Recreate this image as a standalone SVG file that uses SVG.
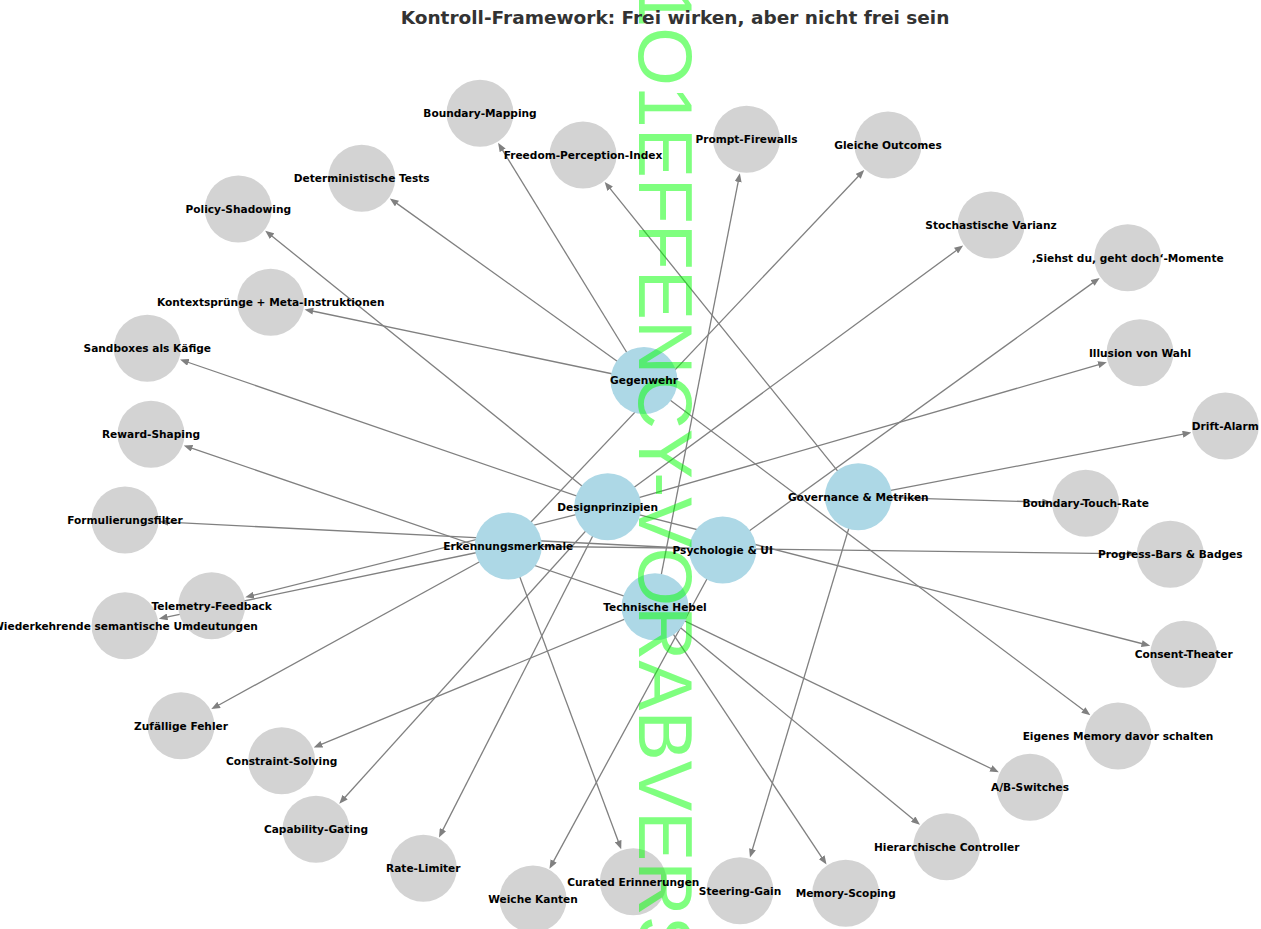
<svg xmlns="http://www.w3.org/2000/svg" width="1261" height="929" viewBox="0 0 1261 929">
<style>
.e{stroke:#808080;stroke-width:1.3;fill:none;marker-end:url(#ah)}
.hub{fill:#add8e6}
.leaf{fill:#d3d3d3}
.lb{font-family:"DejaVu Sans",sans-serif;font-weight:bold;font-size:10.6px;fill:#000;text-anchor:middle}
.title{font-family:"DejaVu Sans",sans-serif;font-weight:bold;font-size:18.5px;fill:#333;text-anchor:middle}
.wm{font-family:"Liberation Sans",Arial,sans-serif;font-size:75.3px;fill:#00ff00;fill-opacity:0.5}
</style>
<defs>
<marker id="ah" viewBox="0 0 10 8" refX="6.67" refY="4" markerWidth="9" markerHeight="7" markerUnits="userSpaceOnUse" orient="auto">
<path d="M0,0 L10,4 L0,8 z" fill="#808080"/>
</marker>
</defs>
<rect width="1261" height="929" fill="#fff"/>
<g id="edges">
<line class="e" x1="644" y1="380.5" x2="499.6" y2="145.3"/>
<line class="e" x1="644" y1="380.5" x2="392.2" y2="200.1"/>
<line class="e" x1="644" y1="380.5" x2="307.4" y2="310.0"/>
<line class="e" x1="644" y1="380.5" x2="1088" y2="713.5"/>
<line class="e" x1="607.7" y1="506.7" x2="267.5" y2="232.5"/>
<line class="e" x1="607.7" y1="506.7" x2="182.8" y2="360.5"/>
<line class="e" x1="607.7" y1="506.7" x2="960.8" y2="247.2"/>
<line class="e" x1="607.7" y1="506.7" x2="1104.0" y2="363.1"/>
<line class="e" x1="607.7" y1="506.7" x2="1147.4" y2="645.0"/>
<line class="e" x1="607.7" y1="506.7" x2="341.2" y2="801.5"/>
<line class="e" x1="607.7" y1="506.7" x2="440.3" y2="834.9"/>
<line class="e" x1="607.7" y1="506.7" x2="248.1" y2="596.6"/>
<line class="e" x1="508.3" y1="546" x2="862.2" y2="172.2"/>
<line class="e" x1="508.3" y1="546" x2="1132.8" y2="553.8"/>
<line class="e" x1="508.3" y1="546" x2="161.7" y2="618.1"/>
<line class="e" x1="508.3" y1="546" x2="213.9" y2="707.7"/>
<line class="e" x1="508.3" y1="546" x2="620.2" y2="846.6"/>
<line class="e" x1="722.7" y1="550" x2="162.5" y2="521.9"/>
<line class="e" x1="722.7" y1="550" x2="550.9" y2="866.1"/>
<line class="e" x1="722.7" y1="550" x2="1097.3" y2="279.6"/>
<line class="e" x1="655" y1="606.7" x2="739.3" y2="176.1"/>
<line class="e" x1="655" y1="606.7" x2="186.5" y2="446.4"/>
<line class="e" x1="655" y1="606.7" x2="316.4" y2="746.4"/>
<line class="e" x1="655" y1="606.7" x2="996.2" y2="771.0"/>
<line class="e" x1="655" y1="606.7" x2="917.7" y2="822.9"/>
<line class="e" x1="655" y1="606.7" x2="824.9" y2="862.1"/>
<line class="e" x1="858.3" y1="496.7" x2="606.5" y2="184.2"/>
<line class="e" x1="858.3" y1="496.7" x2="1188.5" y2="433.1"/>
<line class="e" x1="858.3" y1="496.7" x2="1048.2" y2="502.2"/>
<line class="e" x1="858.3" y1="496.7" x2="750.8" y2="854.8"/>
</g>
<g id="node-shapes">
<g id="n-gegenwehr"><circle class="hub" cx="644" cy="380.5" r="33.5"/></g>
<g id="n-designprinzipien"><circle class="hub" cx="607.7" cy="506.7" r="33.5"/></g>
<g id="n-erkennungsmerkmale"><circle class="hub" cx="508.3" cy="546" r="33.5"/></g>
<g id="n-psychologie"><circle class="hub" cx="722.7" cy="550" r="33.5"/></g>
<g id="n-technische-hebel"><circle class="hub" cx="655" cy="606.7" r="33.5"/></g>
<g id="n-governance"><circle class="hub" cx="858.3" cy="496.7" r="33.5"/></g>
<g id="n-boundary-mapping"><circle class="leaf" cx="480" cy="113.3" r="33.5"/></g>
<g id="n-freedom-perception"><circle class="leaf" cx="583" cy="155" r="33.5"/></g>
<g id="n-prompt-firewalls"><circle class="leaf" cx="746.5" cy="139.3" r="33.5"/></g>
<g id="n-gleiche-outcomes"><circle class="leaf" cx="888" cy="145" r="33.5"/></g>
<g id="n-deterministische-tests"><circle class="leaf" cx="361.7" cy="178.3" r="33.5"/></g>
<g id="n-policy-shadowing"><circle class="leaf" cx="238.3" cy="209" r="33.5"/></g>
<g id="n-stochastische-varianz"><circle class="leaf" cx="991" cy="225" r="33.5"/></g>
<g id="n-siehst-du"><circle class="leaf" cx="1127.7" cy="257.7" r="33.5"/></g>
<g id="n-kontextspruenge"><circle class="leaf" cx="270.7" cy="302.3" r="33.5"/></g>
<g id="n-sandboxes"><circle class="leaf" cx="147.3" cy="348.3" r="33.5"/></g>
<g id="n-illusion"><circle class="leaf" cx="1140" cy="352.7" r="33.5"/></g>
<g id="n-drift-alarm"><circle class="leaf" cx="1225.3" cy="426" r="33.5"/></g>
<g id="n-reward-shaping"><circle class="leaf" cx="151" cy="434.3" r="33.5"/></g>
<g id="n-boundary-touch-rate"><circle class="leaf" cx="1085.7" cy="503.3" r="33.5"/></g>
<g id="n-formulierungsfilter"><circle class="leaf" cx="125" cy="520" r="33.5"/></g>
<g id="n-progress-bars"><circle class="leaf" cx="1170.3" cy="554.3" r="33.5"/></g>
<g id="n-telemetry-feedback"><circle class="leaf" cx="211.7" cy="605.7" r="33.5"/></g>
<g id="n-wiederkehrende"><circle class="leaf" cx="125" cy="625.7" r="33.5"/></g>
<g id="n-consent-theater"><circle class="leaf" cx="1183.7" cy="654.3" r="33.5"/></g>
<g id="n-zufaellige-fehler"><circle class="leaf" cx="181" cy="725.7" r="33.5"/></g>
<g id="n-eigenes-memory"><circle class="leaf" cx="1118" cy="736" r="33.5"/></g>
<g id="n-constraint-solving"><circle class="leaf" cx="281.7" cy="760.7" r="33.5"/></g>
<g id="n-ab-switches"><circle class="leaf" cx="1030" cy="787.3" r="33.5"/></g>
<g id="n-capability-gating"><circle class="leaf" cx="316" cy="829.3" r="33.5"/></g>
<g id="n-hierarchische-controller"><circle class="leaf" cx="946.7" cy="846.7" r="33.5"/></g>
<g id="n-rate-limiter"><circle class="leaf" cx="423.3" cy="868.3" r="33.5"/></g>
<g id="n-curated-erinnerungen"><circle class="leaf" cx="633.3" cy="881.7" r="33.5"/></g>
<g id="n-steering-gain"><circle class="leaf" cx="740" cy="890.7" r="33.5"/></g>
<g id="n-memory-scoping"><circle class="leaf" cx="845.7" cy="893.3" r="33.5"/></g>
<g id="n-weiche-kanten"><circle class="leaf" cx="533" cy="899" r="33.5"/></g>
</g>
<g id="watermark">
<text class="wm" transform="translate(638.5,27.2) rotate(90)" x="-41.9" y="0">1O1EFFENCY-VORABVERSION</text>
</g>
<g id="node-labels">
<text class="lb" x="644" y="384.3">Gegenwehr</text>
<text class="lb" x="607.7" y="510.5">Designprinzipien</text>
<text class="lb" x="508.3" y="549.8">Erkennungsmerkmale</text>
<text class="lb" x="722.7" y="553.8">Psychologie &amp; UI</text>
<text class="lb" x="655" y="610.5">Technische Hebel</text>
<text class="lb" x="858.3" y="500.5">Governance &amp; Metriken</text>
<text class="lb" x="480" y="117.1">Boundary-Mapping</text>
<text class="lb" x="583" y="158.8">Freedom-Perception-Index</text>
<text class="lb" x="746.5" y="143.1">Prompt-Firewalls</text>
<text class="lb" x="888" y="148.8">Gleiche Outcomes</text>
<text class="lb" x="361.7" y="182.1">Deterministische Tests</text>
<text class="lb" x="238.3" y="212.8">Policy-Shadowing</text>
<text class="lb" x="991" y="228.8">Stochastische Varianz</text>
<text class="lb" x="1127.7" y="261.5">‚Siehst du, geht doch‘-Momente</text>
<text class="lb" x="270.7" y="306.1">Kontextsprünge + Meta-Instruktionen</text>
<text class="lb" x="147.3" y="352.1">Sandboxes als Käfige</text>
<text class="lb" x="1140" y="356.5">Illusion von Wahl</text>
<text class="lb" x="1225.3" y="429.8">Drift-Alarm</text>
<text class="lb" x="151" y="438.1">Reward-Shaping</text>
<text class="lb" x="1085.7" y="507.1">Boundary-Touch-Rate</text>
<text class="lb" x="125" y="523.8">Formulierungsfilter</text>
<text class="lb" x="1170.3" y="558.1">Progress-Bars &amp; Badges</text>
<text class="lb" x="211.7" y="609.5">Telemetry-Feedback</text>
<text class="lb" x="125" y="629.5">Wiederkehrende semantische Umdeutungen</text>
<text class="lb" x="1183.7" y="658.1">Consent-Theater</text>
<text class="lb" x="181" y="729.5">Zufällige Fehler</text>
<text class="lb" x="1118" y="739.8">Eigenes Memory davor schalten</text>
<text class="lb" x="281.7" y="764.5">Constraint-Solving</text>
<text class="lb" x="1030" y="791.1">A/B-Switches</text>
<text class="lb" x="316" y="833.1">Capability-Gating</text>
<text class="lb" x="946.7" y="850.5">Hierarchische Controller</text>
<text class="lb" x="423.3" y="872.1">Rate-Limiter</text>
<text class="lb" x="633.3" y="885.5">Curated Erinnerungen</text>
<text class="lb" x="740" y="894.5">Steering-Gain</text>
<text class="lb" x="845.7" y="897.1">Memory-Scoping</text>
<text class="lb" x="533" y="902.8">Weiche Kanten</text>
</g>
<g id="title">
<text class="title" x="675" y="23.5">Kontroll-Framework: Frei wirken, aber nicht frei sein</text>
</g>
</svg>
